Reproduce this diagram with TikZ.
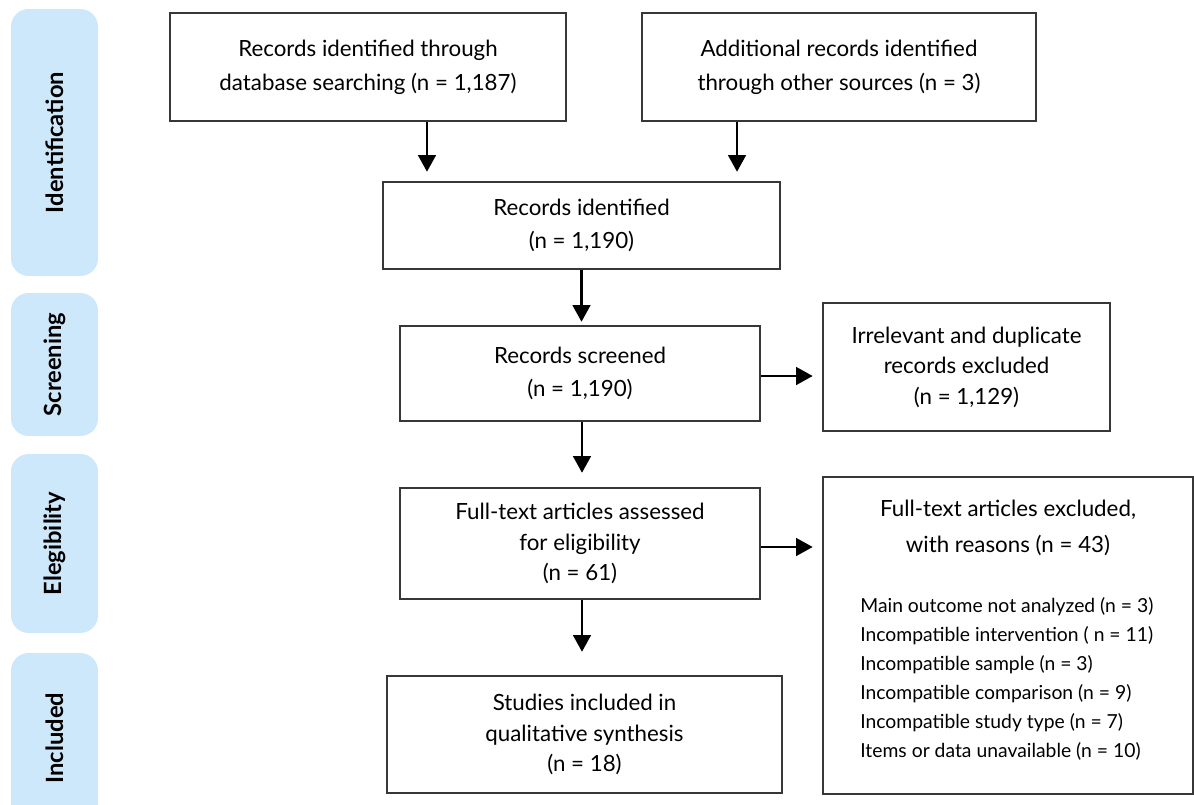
\documentclass[tikz,border=0pt]{standalone}
\usepackage{fontspec}
\setmainfont{Lato}
\usetikzlibrary{arrows.meta}
\definecolor{stageblue}{RGB}{205,232,250}
\definecolor{boxline}{RGB}{55,55,55}

\begin{document}
\begin{tikzpicture}
    [
        x = 0.02cm, y = -0.02cm,
        box/.style   = {shape=rectangle, draw=boxline, line width=0.9pt,
                        align=center, inner sep=0pt,
                        font=\fontsize{12.7}{19.2}\selectfont},
        tight/.style = {font=\fontsize{12.7}{17.4}\selectfont},
        stage/.style = {shape=rectangle, rounded corners=10pt, fill=stageblue,
                        rotate=90, minimum height=1.74cm, inner sep=0pt,
                        font=\fontsize{13.5}{15}\bfseries},
        flow/.style  = {-{Triangle[length=9.5pt, width=10pt]}, line width=1.6pt}
    ]
    \clip (0,0) rectangle (1194,805);

    % stages on the left
    \node [stage, minimum width=5.34cm] (identification) at (54.5,142.5) {Identification};
    \node [stage, minimum width=2.86cm] (screening) at (54.5,364.5) {Screening};
    \node [stage, minimum width=3.58cm] (eligibility) at (54.5,543.5) {Elegibility};
    \node [stage, minimum width=3.40cm] (included) at (54.5,738) {Included};

    % flow boxes
    \node [box, minimum width=7.92cm, minimum height=2.16cm] (db) at (368,67)
        {Records identified through\\database searching (n = 1,187)};
    \node [box, minimum width=7.88cm, minimum height=2.16cm] (other) at (839,67)
        {Additional records identified\\through other sources (n = 3)};
    \node [box, minimum width=7.94cm, minimum height=1.74cm] (ident) at (581.5,225.5)
        {Records identified\\(n = 1,190)};
    \node [box, minimum width=7.20cm, minimum height=1.90cm] (screen) at (580,373.5)
        {Records screened\\(n = 1,190)};
    \node [box, tight, minimum width=5.74cm, minimum height=2.56cm] (irrel) at (966.5,367)
        {Irrelevant and duplicate\\records excluded\\(n = 1,129)};
    \node [box, tight, minimum width=7.20cm, minimum height=2.22cm] (full) at (580,543.5)
        {Full-text articles assessed\\for eligibility\\(n = 61)};
    \node [box, minimum width=7.40cm, minimum height=6.34cm] (excl) at (1008,635.5) {};
    \node [font=\fontsize{12.7}{20.5}\selectfont, align=center, anchor=north, inner sep=0pt]
        (excltitle) at ([yshift=-0.47cm]excl.north)
        {Full-text articles excluded,\\with reasons (n = 43)};
    \node [font=\fontsize{11}{16.5}\selectfont, align=left, anchor=north west, inner sep=0pt]
        (reasons) at (860,597)
        {Main outcome not analyzed (n = 3)\\
         Incompatible intervention ( n = 11)\\
         Incompatible sample (n = 3)\\
         Incompatible comparison (n = 9)\\
         Incompatible study type (n = 7)\\
         Items or data unavailable (n = 10)};
    \node [box, tight, minimum width=7.90cm, minimum height=2.34cm] (incl) at (584.5,734.5)
        {Studies included in\\qualitative synthesis\\(n = 18)};

    % arrows
    \draw [flow] ([xshift=1.18cm]db.south) -- ++(0,50);
    \draw [flow] ([xshift=-2.04cm]other.south) -- ++(0,50);
    \draw [flow] (ident.south) -- ++(0,52);
    \draw [flow] ([xshift=0.04cm]screen.south) -- ++(0,51);
    \draw [flow] ([xshift=0.04cm]full.south) -- ++(0,52);
    \draw [flow] (screen.east |- 0,376) -- ++(52,0);
    \draw [flow] (full.east |- 0,547) -- ++(52,0);
\end{tikzpicture}
\end{document}
